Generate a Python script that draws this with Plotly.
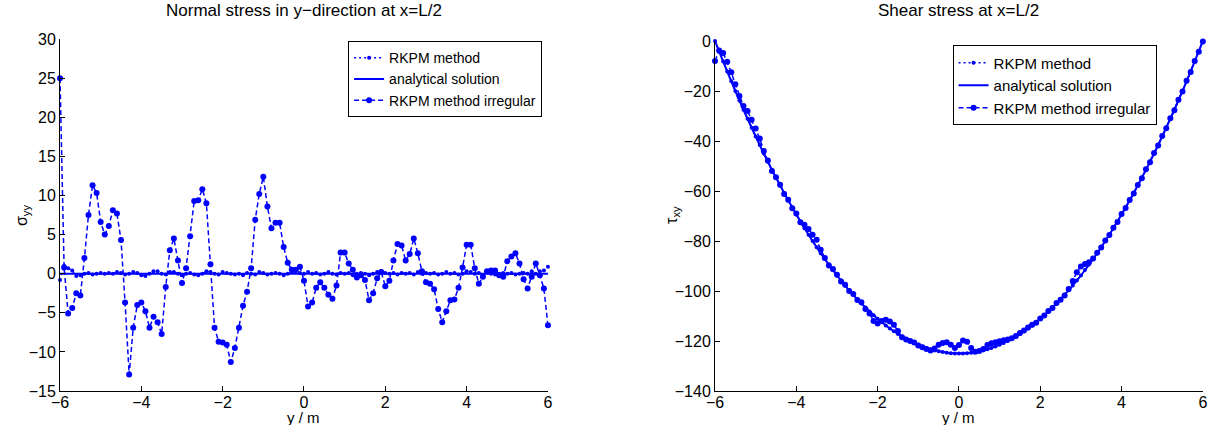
import numpy as np
import plotly.graph_objects as go

# Sample positions along the beam height (m)
y_pos = np.round(np.arange(-60, 61) / 10.0, 1)

# Normal stress sigma_yy at x = L/2
sigma_exact_y = [-6.0, 6.0]
sigma_exact = [0.0, 0.0]

sigma_rkpm = [
    -0.8, 1.0, 0.7, 0.4, -0.3, -0.2, 0.0, 0.1, -0.1, 0.0,
    0.1, 0.0, 0.1, 0.0, 0.2, 0.1, -0.1, 0.0, 0.2, 0.1,
    -0.2, -0.3, 0.0, 0.3, 0.3, 0.0, -0.1, 0.2, 0.2, 0.0,
    -0.2, 0.0, 0.1, -0.1, -0.2, 0.0, 0.3, 0.2, 0.0, -0.1,
    0.2, 0.1, 0.0, -0.1, 0.0, -0.2, 0.1, 0.0, -0.1, 0.2,
    0.1, -0.1, 0.0, 0.1, 0.0, -0.2, 0.0, 0.2, 0.3, 0.1,
    0.0,
    0.2, 0.0, 0.1, -0.1, 0.0, 0.2, 0.0, -0.1, 0.1, 0.0,
    0.1, -0.2, 0.0, 0.1, 0.0, -0.2, 0.0, 0.2, 0.3, 0.1,
    0.0, 0.1, -0.1, 0.1, 0.0, 0.1, -0.1, 0.2, 0.0, 0.1,
    0.0, 0.1, -0.1, 0.0, 0.2, 0.0, 0.1, -0.1, 0.0, 0.3,
    0.2, 0.0, 0.1, -0.2, 0.2, 0.0, -0.1, 0.0, 0.1, 0.0,
    0.1, -0.1, 0.0, 0.1, 0.0, 0.3, 0.0, 0.3, 0.4, 0.9,
]

sigma_irregular = [
    25.0, 0.8, -5.1, -4.4, -2.5, -2.8, 2.0, 7.5, 11.3, 10.3,
    6.6, 5.0, 6.1, 8.1, 7.7, 4.3, -3.7, -12.9, -6.9, -4.0,
    -3.7, -4.8, -6.9, -5.5, -6.2, -7.7, -1.7, 3.0, 4.5, 1.7,
    -1.2, 0.7, 4.8, 9.3, 9.4, 10.8, 9.0, 1.2, -6.9, -8.7,
    -8.8, -9.1, -11.3, -9.5, -6.9, -4.1, -2.3, 0.7, 6.9, 10.2,
    12.4, 8.6, 5.8, 6.5, 6.5, 3.4, 1.4, 0.5, 0.5, 0.9,
    -0.9,
    -4.2, -3.7, -1.8, -1.1, -1.8, -2.7, -3.2, -1.5, 2.7, 2.7,
    1.3, 0.5, -0.5, -0.2, -0.8, -3.4, -2.5, -0.6, 0.2, -1.6,
    -0.9, 1.7, 3.8, 3.6, 1.7, 2.5, 4.5, 2.6, 0.3, -1.1,
    -1.3, -2.0, -4.5, -6.2, -4.8, -3.4, -3.3, -1.8, 0.8, 3.7,
    3.7, 0.7, -1.3, -0.4, 0.3, 0.4, 0.4, -0.2, -0.4, 1.6,
    2.2, 2.6, 1.3, -0.7, -1.9, -0.4, 1.3, -0.2, -1.9, -6.6,
]

# Shear stress tau_xy at x = L/2
tau_exact_y = [-6.0, -5.5, -5.0, -4.5, -4.0, -3.5, -3.0, -2.5, -2.0, -1.5, -1.0, -0.5,
               0.0, 0.5, 1.0, 1.5, 2.0, 2.5, 3.0, 3.5, 4.0, 4.5, 5.0, 5.5, 6.0]
tau_exact = [0.0, -20.0, -38.2, -54.7, -69.4, -82.5, -93.8, -103.3, -111.1, -117.2, -121.5, -124.1,
             -125.0, -124.1, -121.5, -117.2, -111.1, -103.3, -93.8, -82.5, -69.4, -54.7, -38.2, -20.0, 0.0]

tau_rkpm = [
    0.0, -4.1, -8.2, -12.2, -16.1, -20.0, -23.8, -27.5, -31.1, -34.7,
    -38.2, -41.6, -45.0, -48.3, -51.5, -54.7, -57.8, -60.8, -63.8, -66.6,
    -69.4, -72.2, -74.9, -77.5, -80.0, -82.5, -84.9, -87.2, -89.4, -91.6,
    -93.8, -95.8, -97.8, -99.7, -101.5, -103.3, -105.0, -106.6, -108.2, -109.7,
    -111.1, -112.5, -113.8, -115.0, -116.1, -117.2, -118.2, -119.1, -120.0, -120.8,
    -121.5, -122.2, -122.8, -123.3, -123.8, -124.1, -124.4, -124.7, -124.9, -125.0,
    -125.0,
    -125.0, -124.9, -124.7, -124.4, -124.1, -123.8, -123.3, -122.8, -122.2, -121.5,
    -120.8, -120.0, -119.1, -118.2, -117.2, -116.1, -115.0, -113.8, -112.5, -111.1,
    -109.7, -108.2, -106.6, -105.0, -103.3, -101.5, -99.7, -97.8, -95.8, -93.8,
    -91.6, -89.4, -87.2, -84.9, -82.5, -80.0, -77.5, -74.9, -72.2, -69.4,
    -66.6, -63.8, -60.8, -57.8, -54.7, -51.5, -48.3, -45.0, -41.6, -38.2,
    -34.7, -31.1, -27.5, -23.8, -20.0, -16.1, -12.2, -8.2, -4.1, 0.0,
]

tau_irregular = [
    -8.0, -3.8, -4.8, -8.3, -12.5, -17.3, -22.0, -26.0, -28.0, -31.5,
    -35.0, -39.0, -44.0, -47.8, -52.0, -54.5, -57.5, -61.2, -63.5, -66.9,
    -69.0, -72.5, -73.5, -75.2, -77.5, -79.5, -83.5, -86.8, -89.8, -91.2,
    -93.5, -96.2, -97.5, -100.0, -101.2, -103.6, -104.5, -107.2, -109.0, -112.0,
    -113.0, -112.0, -111.5, -112.2, -113.5, -116.0, -118.5, -119.4, -120.0, -120.6,
    -121.8, -122.5, -123.2, -123.8, -123.0, -121.5, -120.8, -120.5, -121.5, -122.8,
    -121.6,
    -119.8, -120.3, -122.8, -124.3, -124.0, -123.2, -121.6, -120.9, -120.5, -120.1,
    -119.7, -119.4, -118.9, -118.0, -116.8, -115.8, -114.6, -113.5, -112.7, -111.0,
    -109.8, -108.0, -106.8, -104.8, -103.5, -101.8, -99.2, -96.0, -92.5, -90.2,
    -89.2, -88.5, -87.0, -84.7, -82.6, -79.8, -77.6, -74.7, -72.4, -69.2,
    -66.8, -63.6, -61.0, -57.6, -54.9, -51.3, -48.5, -44.8, -41.8, -38.0,
    -34.9, -30.9, -27.7, -23.5, -20.2, -15.9, -12.4, -8.0, -4.3, -0.2,
]

for series in (sigma_rkpm, sigma_irregular, tau_rkpm, tau_irregular):
    assert len(series) == len(y_pos)

BLUE = "rgb(0,0,255)"
FONT = "Liberation Sans, Arial, Helvetica, sans-serif"
NAMES = ["RKPM method", "analytical solution", "RKPM method irregular"]

fig = go.Figure()


def add_panel(xa, ya, legend, rkpm, exact_y, exact, irregular, spline):
    fig.add_trace(go.Scatter(
        x=y_pos, y=rkpm, name=NAMES[0], mode="lines+markers", xaxis=xa, yaxis=ya,
        legend=legend, cliponaxis=False,
        line=dict(color=BLUE, width=1.5, dash="2px,3px"),
        marker=dict(color=BLUE, size=4, symbol="circle")))
    fig.add_trace(go.Scatter(
        x=exact_y, y=exact, name=NAMES[1], mode="lines", xaxis=xa, yaxis=ya,
        legend=legend, cliponaxis=False,
        line=dict(color=BLUE, width=2, shape="spline" if spline else "linear")))
    fig.add_trace(go.Scatter(
        x=y_pos, y=irregular, name=NAMES[2], mode="lines+markers", xaxis=xa, yaxis=ya,
        legend=legend, cliponaxis=False,
        line=dict(color=BLUE, width=1.5, dash="5px,3px"),
        marker=dict(color=BLUE, size=6, symbol="circle")))


add_panel("x", "y", "legend", sigma_rkpm, sigma_exact_y, sigma_exact, sigma_irregular, False)
add_panel("x2", "y2", "legend2", tau_rkpm, tau_exact_y, tau_exact, tau_irregular, True)

axis_common = dict(
    showline=True, linecolor="black", linewidth=1, mirror=False,
    ticks="inside", ticklen=5, tickcolor="black", tickwidth=1,
    showgrid=False, zeroline=False, automargin=False,
    tickfont=dict(family=FONT, size=16, color="black"),
)
x_ticks = dict(tickvals=[-6, -4, -2, 0, 2, 4, 6], range=[-6, 6], ticklabelstandoff=-3)

legend_common = dict(
    bgcolor="white", bordercolor="black", borderwidth=1,
    xanchor="left", yanchor="top", itemwidth=30, tracegroupgap=0,
)

fig.update_layout(
    width=1215, height=425,
    margin=dict(l=0, r=0, t=0, b=0, autoexpand=False),
    paper_bgcolor="white", plot_bgcolor="white",
    xaxis=dict(domain=[0.0494, 0.4510], anchor="y", **x_ticks, **axis_common),
    yaxis=dict(domain=[0.08, 0.9082], range=[-15, 30], tickvals=list(range(-15, 31, 5)),
               anchor="x", **axis_common),
    xaxis2=dict(domain=[0.5885, 0.990], anchor="y2", **x_ticks, **axis_common),
    yaxis2=dict(domain=[0.08, 0.9035], range=[-140, 0], tickvals=list(range(-140, 1, 20)),
                anchor="x2", **axis_common),
    legend=dict(x=0.2865, y=0.903, font=dict(family=FONT, size=14, color="black"),
                **legend_common),
    legend2=dict(x=0.784, y=0.893, font=dict(family=FONT, size=15, color="black"),
                 **legend_common),
    showlegend=True,
)

title_font = dict(family=FONT, size=17, color="black")
label_font = dict(family=FONT, size=15, color="black")
annotations = [
    dict(text="Normal stress in y\u2212direction at x=L/2", x=0.2502, y=0.976, font=title_font),
    dict(text="Shear stress at x=L/2", x=0.7893, y=0.976, font=title_font),
    dict(text="y / m", x=0.2502, y=0.017, font=label_font),
    dict(text="y / m", x=0.7893, y=0.017, font=label_font),
]
for a in annotations:
    fig.add_annotation(xref="paper", yref="paper", xanchor="center", yanchor="middle",
                       showarrow=False, **a)

fig.add_annotation(text="\u03c3<sub>yy</sub>", xref="paper", yref="paper", x=0.0181, y=0.494,
                   textangle=-90, showarrow=False, xanchor="center", yanchor="middle",
                   font=dict(family=FONT, size=16, color="black"))
fig.add_annotation(text="\u03c4<sub>xy</sub>", xref="paper", yref="paper", x=0.553, y=0.494,
                   textangle=-90, showarrow=False, xanchor="center", yanchor="middle",
                   font=dict(family=FONT, size=16, color="black"))

fig.write_html("out.html")
